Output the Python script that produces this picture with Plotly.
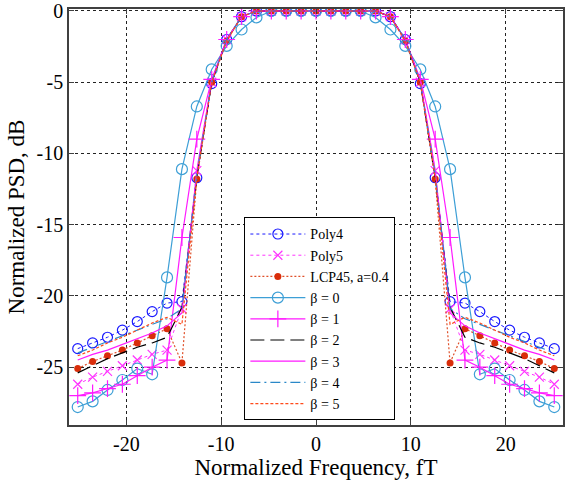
import plotly.graph_objects as go

# one-sided frequency grid (fT), curves are symmetric about 0
freq_half = [0, 1.57, 3.14, 4.71, 6.28, 7.85, 9.42, 11.0, 12.57, 14.14,
             15.71, 17.28, 18.85, 20.42, 21.99, 23.56, 25.13]

poly4 = [0, 0, 0, 0, 0, -0.4, -2.0, -5.1, -11.7, -20.4, -20.5, -21.1, -21.8, -22.4, -22.9, -23.3, -23.7]
poly5 = [0, 0, 0, 0, 0, -0.4, -2.0, -5.0, -11.2, -20.9, -23.8, -24.1, -24.5, -24.9, -25.3, -25.7, -26.2]
lcp45 = [0, 0, 0, 0, 0, -0.4, -2.1, -5.0, -11.8, -24.7, -22.3, -22.8, -23.3, -23.8, -24.2, -24.6, -25.1]
beta0 = [0, 0, 0, 0, -0.45, -1.3, -2.45, -4.1, -6.7, -11.1, -18.7, -25.5, -25.1, -25.9, -26.6, -27.4, -27.8]
beta1 = [0, 0, 0, 0, 0, -0.4, -2.0, -4.8, -9.0, -15.9, -24.5, -25.0, -25.6, -26.2, -26.5, -26.8, -27.0]
beta2 = [0, 0, 0, 0, 0, -0.4, -2.0, -5.0, -11.6, -20.8, -22.9, -23.3, -23.6, -24.0, -24.4, -24.9, -25.4]
beta3 = [0, 0, 0, 0, 0, -0.4, -2.0, -4.9, -11.2, -21.2, -22.1, -22.6, -23.0, -23.4, -23.8, -24.1, -24.5]
beta4 = [0, 0, 0, 0, 0, -0.4, -2.0, -5.0, -11.5, -20.9, -21.6, -22.0, -22.4, -22.8, -23.2, -23.6, -24.0]
beta5 = [0, 0, 0, 0, 0, -0.4, -2.1, -5.0, -11.7, -22.0, -21.5, -21.9, -22.4, -22.9, -23.3, -23.8, -24.2]

x_ticks = [-20, -10, 0, 10, 20]
x_labels = ["-20", "-10", "0", "10", "20"]
y_ticks = [0, -5, -10, -15, -20, -25]
y_labels = ["0", "-5", "-10", "-15", "-20", "-25"]


def full_x(h):
    return [-v for v in h[:0:-1]] + h


def full_y(h):
    return h[:0:-1] + h


FONT = "Liberation Serif"

series = [
    ("Poly4", poly4, dict(color="#1a1aff", width=1, dash="3px,3px"),
     dict(symbol="circle-open", size=10, color="#1a1aff", line=dict(width=1.2)), "lines+markers"),
    ("Poly5", poly5, dict(color="#ff33ff", width=1, dash="3px,3px"),
     dict(symbol="x-thin-open", size=9, color="#ff33ff", line=dict(width=1.2)), "lines+markers"),
    ("LCP45, a=0.4", lcp45, dict(color="#e0502a", width=1.2, dash="2px,2px"),
     dict(symbol="circle", size=7, color="#d92d0a"), "lines+markers"),
    ("β = 0", beta0, dict(color="#3d9fd6", width=1.2),
     dict(symbol="circle-open", size=11, color="#3d9fd6", line=dict(width=1.2)), "lines+markers"),
    ("β = 1", beta1, dict(color="#ff1aff", width=1.2),
     dict(symbol="cross-thin-open", size=12, color="#ff1aff", line=dict(width=1.2)), "lines+markers"),
    ("β = 2", beta2, dict(color="#000000", width=1.2, dash="14px,6px"), None, "lines"),
    ("β = 3", beta3, dict(color="#ff1aff", width=1.2), None, "lines"),
    ("β = 4", beta4, dict(color="#2a88c8", width=1.2, dash="10px,4px,2px,4px"), None, "lines"),
    ("β = 5", beta5, dict(color="#ff4a1a", width=1.2, dash="3px,2px"), None, "lines"),
]

fig = go.Figure()
for name, vals, line, marker, mode in series:
    kw = dict(x=full_x(freq_half), y=full_y(vals), name=name, mode=mode, line=line)
    if marker:
        kw["marker"] = marker
    fig.add_trace(go.Scatter(**kw))

axis_common = dict(
    showline=True, linecolor="#404040", linewidth=1.5, mirror="ticks",
    ticks="inside", ticklen=5, tickcolor="#404040",
    showgrid=True, gridcolor="#222222", gridwidth=1, griddash="3px,3px",
    zeroline=False, ticklabeloverflow="allow",
    tickfont=dict(family=FONT, size=20, color="#000000"),
)

fig.update_xaxes(range=[-26.05, 26.05], tickvals=x_ticks, ticktext=x_labels,
                 title=dict(text="Normalized Frequency, fT", font=dict(family=FONT, size=23, color="#000"), standoff=4),
                 **axis_common)
fig.update_yaxes(range=[-29.06, 0.14], tickvals=y_ticks, ticktext=y_labels,
                 title=dict(text="Normalized PSD, dB", font=dict(family=FONT, size=23, color="#000"), standoff=6),
                 **axis_common)

fig.update_layout(
    width=565, height=484,
    margin=dict(l=69, r=0, t=8, b=59),
    plot_bgcolor="#ffffff", paper_bgcolor="#ffffff",
    font=dict(family=FONT, color="#000"),
    legend=dict(x=0.355, y=0.499, xanchor="left", yanchor="top",
                bgcolor="#ffffff", bordercolor="#000000", borderwidth=1,
                font=dict(family=FONT, size=14, color="#000"),
                tracegroupgap=0, itemwidth=55),
    showlegend=True,
)

fig.write_html("out.html")
